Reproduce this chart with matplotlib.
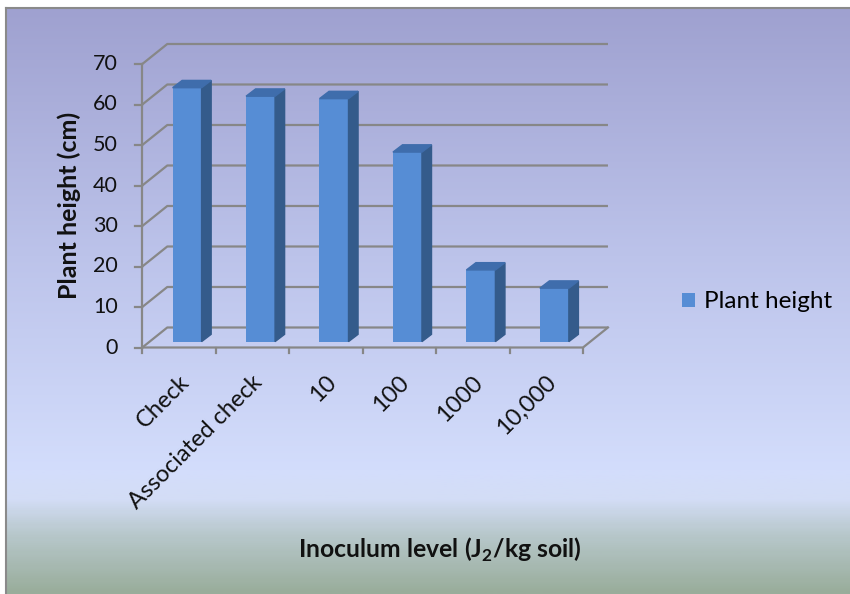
import numpy as np
import matplotlib.pyplot as plt
from matplotlib.patches import Polygon
from matplotlib.colors import LinearSegmentedColormap

plt.rcParams['font.family'] = ['Lato', 'DejaVu Sans']
plt.rcParams['mathtext.fontset'] = 'custom'
plt.rcParams['mathtext.rm'] = 'Lato'
plt.rcParams['mathtext.bf'] = 'Lato:bold'

categories = ['Check', 'Associated check', '10', '100', '1000', '10,000']
plant_height = [62.7, 60.6, 60.0, 46.8, 17.7, 13.2]
y_ticks = [0, 10, 20, 30, 40, 50, 60, 70]

W, H = 850, 594
fig = plt.figure(figsize=(W / 100, H / 100), dpi=100)

# gradient background of the chart area
stops = [(0.0, '#9fa1d0'), (0.42, '#bcc3ea'), (0.79, '#d3ddfc'),
         (0.84, '#d3ddf6'), (0.90, '#b8c8cc'), (1.0, '#99ad9b')]
cmap = LinearSegmentedColormap.from_list('bg', stops)
bg = fig.add_axes([6 / W, 0, 1 - 6 / W, 1 - 8 / H])
bg.imshow(np.linspace(0, 1, 300).reshape(-1, 1), aspect='auto', cmap=cmap,
          extent=[0, 1, 0, 1])
bg.set_xticks([])
bg.set_yticks([])
for s in ['right', 'bottom']:
    bg.spines[s].set_visible(False)
for s in ['left', 'top']:
    bg.spines[s].set_color('#8a8a8a')
    bg.spines[s].set_linewidth(1.5)

# main plot axes: x in category units, y in cm
px_per_x = 73.45
px_per_y = 4.05
x0_px, y0_px = 142.3, 347.5
xlim = (-0.6, 6.8)
ylim = (-3, 76)
left = (x0_px + xlim[0] * px_per_x) / W
width = (xlim[1] - xlim[0]) * px_per_x / W
bottom = (H - (y0_px - ylim[0] * px_per_y)) / H
height = (ylim[1] - ylim[0]) * px_per_y / H
ax = fig.add_axes([left, bottom, width, height])
ax.set_xlim(*xlim)
ax.set_ylim(*ylim)
ax.axis('off')
ax.patch.set_alpha(0)

n = len(categories)
depth_x, depth_y = 0.34, 4.94      # wall depth
shift_x, shift_y = 0.11, 1.45      # bar front position inside the depth
bar_w = 0.395
bar_dx, bar_dy = 0.13, 1.8         # bar depth
grid_c = '#878787'

# gridlines on back wall with diagonal on left wall
for v in y_ticks:
    ax.plot([0, depth_x, n + depth_x], [v, v + depth_y, v + depth_y],
            color=grid_c, lw=1.6, zorder=1, solid_capstyle='butt')
    ax.plot([-0.095, 0], [v, v], color=grid_c, lw=1.6, zorder=1)
ax.plot([0, 0], [0, y_ticks[-1]], color=grid_c, lw=1.6, zorder=1)
ax.plot([0, n, n + depth_x], [0, 0, depth_y], color=grid_c, lw=1.6, zorder=4)
for i in range(n + 1):
    ax.plot([i, i], [0, -1.4], color=grid_c, lw=1.6, zorder=4)

# bars
x = np.arange(n) + 0.5 + shift_x
bars = ax.bar(x, plant_height, width=bar_w, bottom=shift_y, color='#568dd5',
              zorder=3, label='Plant height')
for xi, v in zip(x, plant_height):
    xl, xr = xi - bar_w / 2, xi + bar_w / 2
    top = shift_y + v
    ax.add_patch(Polygon([(xr, shift_y), (xr + bar_dx, shift_y + bar_dy),
                          (xr + bar_dx, top + bar_dy), (xr, top)],
                         closed=True, color='#345b8b', zorder=3))
    ax.add_patch(Polygon([(xl, top), (xl + bar_dx, top + bar_dy),
                          (xr + bar_dx, top + bar_dy), (xr, top)],
                         closed=True, color='#3f6dac', zorder=3))

# tick labels
for v in y_ticks:
    ax.text(-0.33, v, str(v), ha='right', va='center', fontsize=15.5,
            color='#111111')
for i, c in enumerate(categories):
    ax.text(i + 0.5 + 0.09, -7.8, c, rotation=45, rotation_mode='anchor',
            ha='right', va='center', fontsize=17, color='#111111')

fig.text(69 / W, 1 - 205 / H, 'Plant height (cm)', rotation=90, ha='center',
         va='center', fontsize=18, fontweight='bold', color='#111111')
fig.text(440 / W, 1 - 550 / H, r'Inoculum level (J$_\mathbf{2}$/kg soil)',
         ha='center', va='center', fontsize=17.8, fontweight='bold',
         color='#111111')

fig.legend(handles=[bars], loc='center left',
           bbox_to_anchor=(682 / W, 1 - 302 / H), frameon=False, fontsize=17.5,
           handlelength=0.55, handleheight=0.55, handletextpad=0.35,
           borderpad=0, borderaxespad=0)

fig.savefig('out.png', dpi=100)
